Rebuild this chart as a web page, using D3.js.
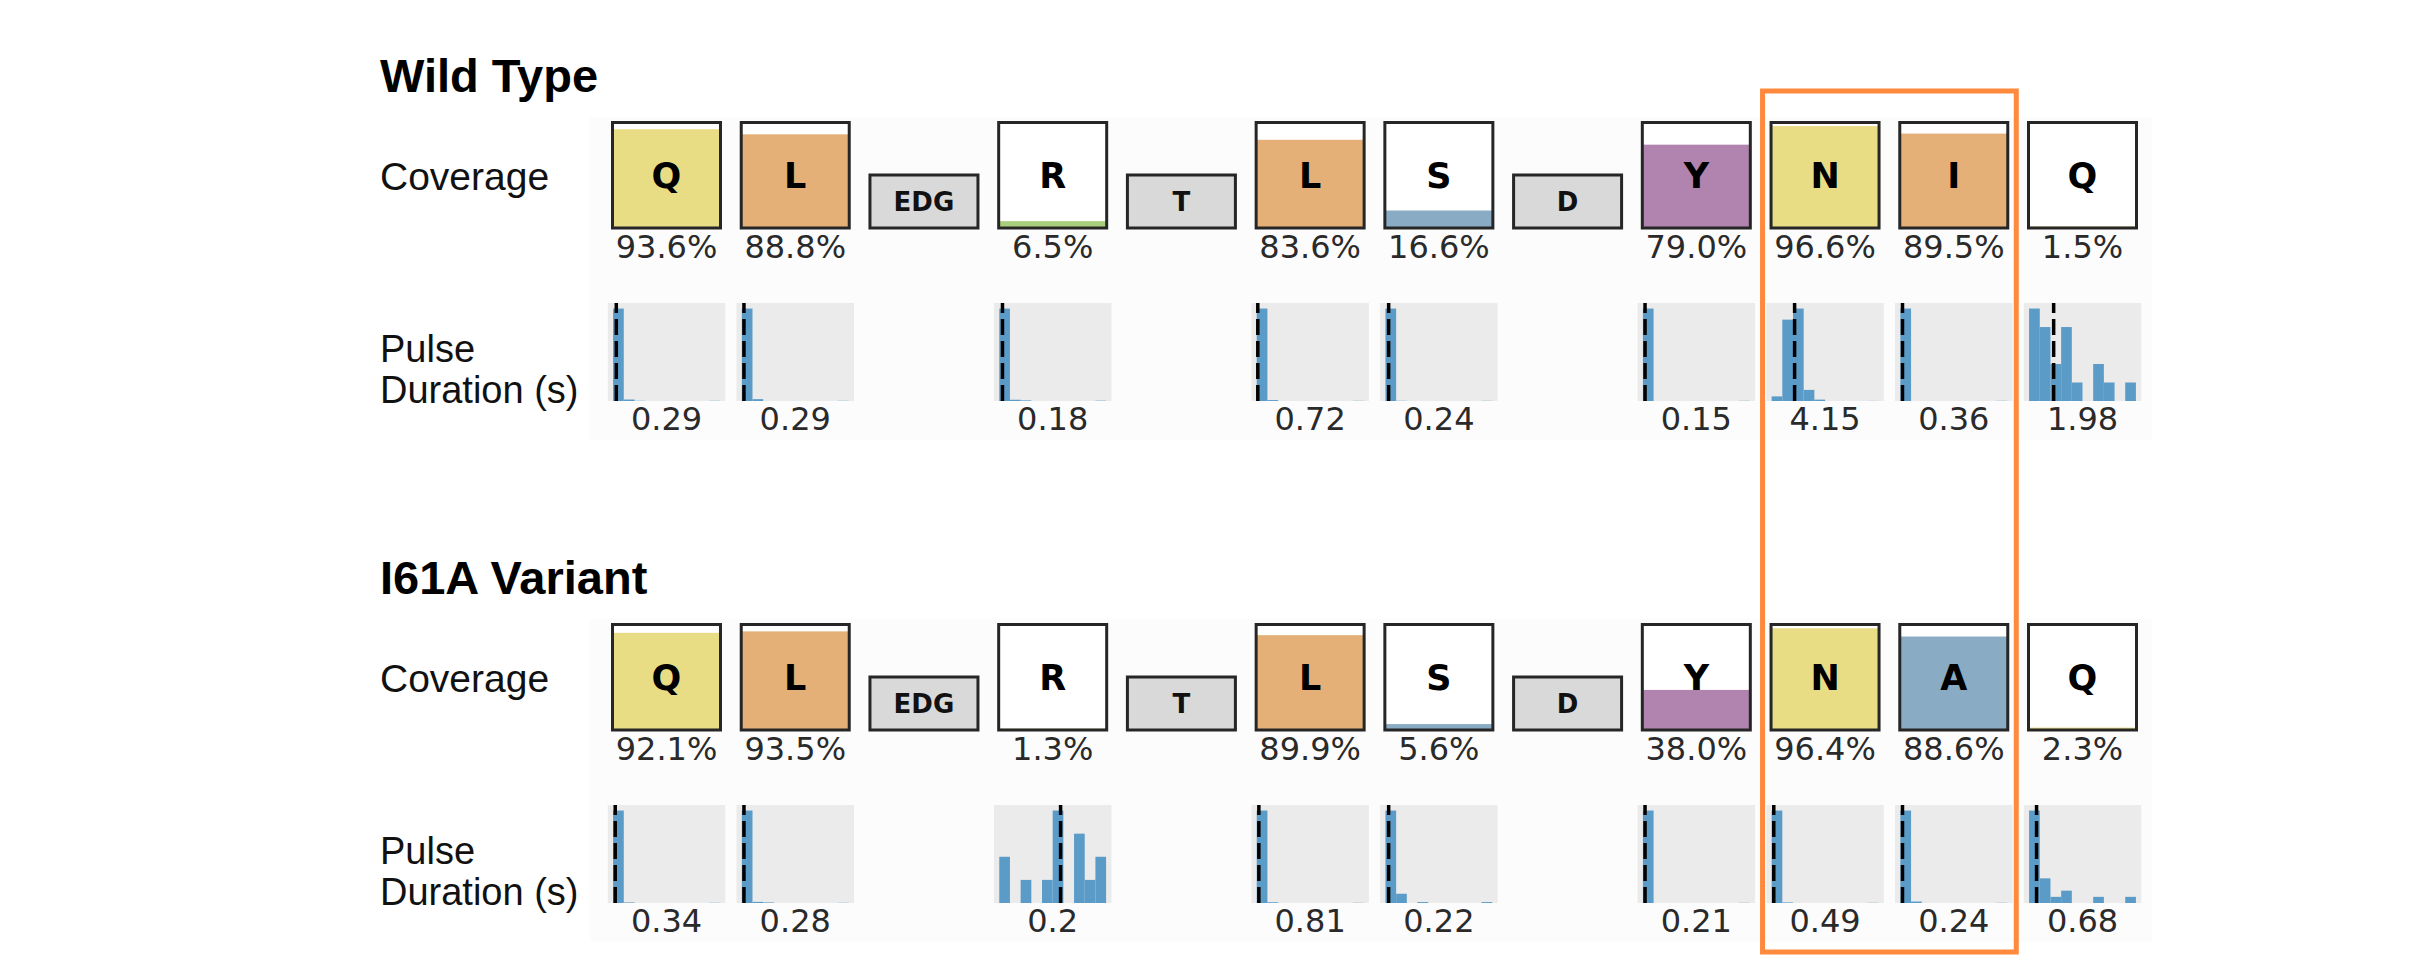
<!DOCTYPE html>
<html>
<head>
<meta charset="utf-8">
<script src="https://cdn.jsdelivr.net/npm/d3@7"></script>
<style>
  body { margin: 0; background: #fff; }
</style>
</head>
<body>
<svg id="chart" width="2411" height="955"></svg>
<script>
// ---- data ----
const residuesWT  = ["Q", "L", "EDG", "R", "T", "L", "S", "D", "Y", "N", "I", "Q"];
const residuesVar = ["Q", "L", "EDG", "R", "T", "L", "S", "D", "Y", "N", "A", "Q"];

// null = linker block (no coverage / pulse stats)
const coverageWT  = [93.6, 88.8, null, 6.5, null, 83.6, 16.6, null, 79.0, 96.6, 89.5, 1.5];
const coverageVar = [92.1, 93.5, null, 1.3, null, 89.9, 5.6, null, 38.0, 96.4, 88.6, 2.3];

const durationWT  = [0.29, 0.29, null, 0.18, null, 0.72, 0.24, null, 0.15, 4.15, 0.36, 1.98];
const durationVar = [0.34, 0.28, null, 0.2, null, 0.81, 0.22, null, 0.21, 0.49, 0.24, 0.68];

// pulse duration histograms, 10 bins each
const histWT = [
	[500, 8, 1, 0, 0, 0, 0, 0, 0, 1],
	[500, 10, 0, 0, 0, 0, 0, 0, 0, 1],
	null,
	[300, 4, 2, 0, 0, 0, 0, 0, 0, 1],
	null,
	[500, 5, 0, 0, 0, 0, 0, 0, 0, 1],
	[500, 1, 0, 0, 0, 0, 0, 0, 0, 1],
	null,
	[500, 0, 0, 0, 0, 0, 0, 0, 0, 1],
	[50, 880, 1000, 120, 15, 0, 0, 0, 0, 1],
	[500, 0, 0, 0, 0, 0, 0, 0, 0, 1],
	[5, 4, 2, 4, 1, 0, 2, 1, 0, 1]
];
const histVar = [
	[500, 3, 0, 0, 0, 0, 0, 0, 0, 1],
	[500, 6, 3, 0, 0, 0, 0, 0, 0, 1],
	null,
	[2, 0, 1, 0, 1, 4, 0, 3, 1, 2],
	null,
	[500, 4, 0, 0, 0, 0, 0, 0, 0, 1],
	[100, 10, 0, 1, 0, 0, 0, 0, 0, 1],
	null,
	[500, 0, 0, 0, 0, 0, 0, 0, 0, 1],
	[500, 3, 0, 0, 0, 0, 0, 0, 0, 1],
	[500, 8, 0, 0, 0, 0, 0, 0, 0, 1],
	[15, 4, 1, 2, 0, 0, 1, 0, 0, 1]
];
// median position, in bin units
const medianWT  = [0.3, 0.2, null, 0.3, null, 0.1, 0.3, null, 0.2, 2.15, 0.2, 2.3];
const medianVar = [0.2, 0.2, null, 5.74, null, 0.2, 0.3, null, 0.2, 0.2, 0.2, 0.7];

const rowTitles = ["Wild Type", "I61A Variant"];
const highlight = [9, 10];

// ---- style ----
const ROW_SHIFT = 502;
const BOX_W = 108, BOX_H = 105.5, LINKER_H = 53, BOX_BOTTOM = 228;
const PANEL_W = 117.5, PANEL_TOP = 303, PANEL_BOTTOM = 401;
const MPL_FONT = "'DejaVu Sans', sans-serif";
const LABEL_FONT = "'Liberation Sans', Arial, sans-serif";
const EDGE = "#262626";
const HIST_COLOR = "#5b9bc8";
const resColor = {
	Q: "#e8dc85", N: "#e8dc85",
	L: "#e5b078", I: "#e5b078",
	R: "#a9cf7d",
	S: "#89abc3", A: "#89abc3",
	Y: "#b184b0"
};

const rows = [
	{ title: rowTitles[0], residues: residuesWT, coverage: coverageWT, duration: durationWT, hist: histWT, median: medianWT },
	{ title: rowTitles[1], residues: residuesVar, coverage: coverageVar, duration: durationVar, hist: histVar, median: medianVar }
];

const svg = d3.select("#chart");
const xCenter = d3.scaleLinear().domain([0, 11]).range([666.5, 2082.5]);
const yCov = d3.scaleLinear().domain([0, 100]).range([BOX_BOTTOM, BOX_BOTTOM - BOX_H]);

rows.forEach(function(row, r) {
	var g = svg.append("g").attr("transform", "translate(0," + (r * ROW_SHIFT) + ")");

	// faint figure background
	g.append("rect")
		.attr("x", 590).attr("y", 117)
		.attr("width", 1562).attr("height", 323)
		.attr("fill", "#fcfcfc");

	g.append("text")
		.attr("x", 380).attr("y", 92)
		.attr("font-family", LABEL_FONT)
		.attr("font-weight", "bold")
		.attr("font-size", 47)
		.attr("fill", "#000")
		.text(row.title);

	g.append("text")
		.attr("x", 380).attr("y", 190)
		.attr("font-family", LABEL_FONT)
		.attr("font-size", 39)
		.attr("fill", "#111")
		.text("Coverage");

	var pd = g.append("text")
		.attr("font-family", LABEL_FONT)
		.attr("font-size", 38)
		.attr("fill", "#111");
	pd.append("tspan").attr("x", 380).attr("y", 362).text("Pulse");
	pd.append("tspan").attr("x", 380).attr("y", 403).text("Duration (s)");

	row.residues.forEach(function(res, i) {
		var cx = xCenter(i);
		var cov = row.coverage[i];

		if (cov === null) {
			// linker block
			g.append("rect")
				.attr("x", cx - BOX_W / 2).attr("y", BOX_BOTTOM - LINKER_H)
				.attr("width", BOX_W).attr("height", LINKER_H)
				.attr("fill", "#d9d9d9")
				.attr("stroke", EDGE).attr("stroke-width", 3);
			g.append("text")
				.attr("x", cx).attr("y", BOX_BOTTOM - LINKER_H / 2 + 9.5)
				.attr("text-anchor", "middle")
				.attr("font-family", MPL_FONT)
				.attr("font-weight", "bold")
				.attr("font-size", 26)
				.attr("fill", "#111")
				.text(res);
			return;
		}

		g.append("rect")
			.attr("x", cx - BOX_W / 2).attr("y", BOX_BOTTOM - BOX_H)
			.attr("width", BOX_W).attr("height", BOX_H)
			.attr("fill", "#fff");
		g.append("rect")
			.attr("x", cx - BOX_W / 2).attr("y", yCov(cov))
			.attr("width", BOX_W).attr("height", BOX_BOTTOM - yCov(cov))
			.attr("fill", resColor[res]);
		g.append("rect")
			.attr("x", cx - BOX_W / 2).attr("y", BOX_BOTTOM - BOX_H)
			.attr("width", BOX_W).attr("height", BOX_H)
			.attr("fill", "none")
			.attr("stroke", EDGE).attr("stroke-width", 3);
		g.append("text")
			.attr("x", cx).attr("y", BOX_BOTTOM - BOX_H / 2 + 12.5)
			.attr("text-anchor", "middle")
			.attr("font-family", MPL_FONT)
			.attr("font-weight", "bold")
			.attr("font-size", 35)
			.attr("fill", "#000")
			.text(res);
		g.append("text")
			.attr("x", cx).attr("y", 258)
			.attr("text-anchor", "middle")
			.attr("font-family", MPL_FONT)
			.attr("font-size", 32)
			.attr("fill", "#2a2a2a")
			.text(cov.toFixed(1) + "%");

		// pulse duration histogram
		var counts = row.hist[i];
		var left = cx - PANEL_W / 2;
		var hx = d3.scaleLinear().domain([-0.5, 10.5]).range([left, left + PANEL_W]);
		var hy = d3.scaleLinear().domain([0, d3.max(counts) * 1.06]).range([PANEL_BOTTOM, PANEL_TOP]);

		g.append("rect")
			.attr("x", left).attr("y", PANEL_TOP)
			.attr("width", PANEL_W).attr("height", PANEL_BOTTOM - PANEL_TOP)
			.attr("fill", "#ebebeb");

		g.append("g").selectAll("rect")
			.data(counts)
		  .enter().append("rect")
			.attr("x", function(d, k) { return hx(k); })
			.attr("y", function(d) { return hy(d); })
			.attr("width", hx(1) - hx(0))
			.attr("height", function(d) { return PANEL_BOTTOM - hy(d); })
			.attr("fill", HIST_COLOR);

		var mx = hx(row.median[i]);
		g.append("line")
			.attr("x1", mx).attr("x2", mx)
			.attr("y1", PANEL_BOTTOM).attr("y2", PANEL_TOP)
			.attr("stroke", "#000")
			.attr("stroke-width", 3.5)
			.attr("stroke-dasharray", "16,6");

		g.append("text")
			.attr("x", cx).attr("y", 430)
			.attr("text-anchor", "middle")
			.attr("font-family", MPL_FONT)
			.attr("font-size", 32)
			.attr("fill", "#2a2a2a")
			.text(String(row.duration[i]));
	});
});

// highlight box around the mutated site
var hl = d3.extent(highlight);
svg.append("rect")
	.attr("x", xCenter(hl[0]) - BOX_W / 2 - 8.5)
	.attr("y", 91)
	.attr("width", xCenter(hl[1]) - xCenter(hl[0]) + BOX_W + 17)
	.attr("height", 861)
	.attr("fill", "none")
	.attr("stroke", "#ff8a3d")
	.attr("stroke-width", 5);
</script>
</body>
</html>
